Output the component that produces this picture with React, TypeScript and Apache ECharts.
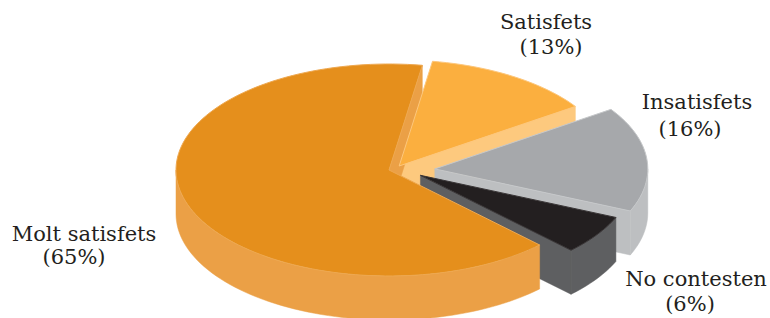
import React, { useEffect, useRef } from "react";
import * as echarts from "echarts";

const categories = ["Molt satisfets", "Satisfets", "Insatisfets", "No contesten"];
const values = [65, 13, 16, 6];

const topColors = ["#E58F1C", "#FBAF3F", "#A6A8AB", "#231F20"];
const sideColors = ["#EBA046", "#FDC97E", "#BDBFC1", "#5E5F61"];
const rimColors = ["#EEA850", "#FDC77C", "#C6C8CA", "#3A3637"];
const explode = [0, 19, 46, 38];

// label anchors (x center, top of first line, x center of second line, top of second line)
const labelPos = [
  [84, 223, 74, 246],
  [546, 11, 551, 36],
  [697, 91, 690, 118],
  [696, 268, 690, 293],
];

const W = 770;
const H = 318;
const CX = 389;
const CY = 170;
const RX = 213;
const RY = 106;
const DEPTH = 44;
const START = 45;
const EXPLODE_Y = 0.25;
const FONT = "DejaVu Serif";
const FONT_SIZE = 21;

const rad = (d: number) => (d * Math.PI) / 180;

function sliceGeom(i: number) {
  const total = values.reduce((s, v) => s + v, 0);
  let cum = 0;
  for (let k = 0; k < i; k++) cum += values[k];
  const a0 = START + (cum / total) * 360;
  const a1 = a0 + (values[i] / total) * 360;
  const mid = (a0 + a1) / 2;
  const cx = CX + explode[i] * Math.cos(rad(mid));
  const cy = CY + explode[i] * Math.sin(rad(mid)) * EXPLODE_Y;
  return { a0, a1, cx, cy };
}

function renderItem(params: any) {
  const i = params.dataIndex;
  const { a0, a1, cx, cy } = sliceGeom(i);
  const pt = (t: number, down: number) => [cx + RX * Math.cos(rad(t)), cy + RY * Math.sin(rad(t)) + down];
  const arc = (s: number, e: number, down: number) => {
    const n = Math.max(2, Math.ceil(Math.abs(e - s) / 2));
    const out: number[][] = [];
    for (let k = 0; k <= n; k++) out.push(pt(s + ((e - s) * k) / n, down));
    return out;
  };
  const topPts = [[cx, cy], ...arc(a0, a1, 0)];
  let maxY = 0;
  const sides: number[][][] = [];
  for (let k = -1; k <= 1; k++) {
    const ws = k * 360;
    const we = k * 360 + 180;
    const s = Math.max(a0, ws);
    const e = Math.min(a1, we);
    if (e > s) {
      const top = arc(s, e, 0);
      const bot = arc(s, e, DEPTH).reverse();
      sides.push([...top, ...bot]);
    }
  }
  const radial: number[][][] = [];
  if (Math.cos(rad(a0)) < 0) {
    const p = pt(a0, 0);
    radial.push([[cx, cy], p, [p[0], p[1] + DEPTH], [cx, cy + DEPTH]]);
  }
  if (Math.cos(rad(a1)) > 0) {
    const p = pt(a1, 0);
    radial.push([[cx, cy], p, [p[0], p[1] + DEPTH], [cx, cy + DEPTH]]);
  }
  const allPts = [...topPts];
  sides.forEach((s) => allPts.push(...s));
  radial.forEach((s) => allPts.push(...s));
  allPts.forEach((p) => (maxY = Math.max(maxY, p[1])));
  const sideZ = Math.round(maxY);
  const children: any[] = [];
  radial.forEach((poly) =>
    children.push({
      type: "polygon",
      z2: sideZ,
      shape: { points: poly },
      style: { fill: sideColors[i], stroke: sideColors[i], lineWidth: 0.5 },
    })
  );
  sides.forEach((poly) =>
    children.push({
      type: "polygon",
      z2: sideZ + 1,
      shape: { points: poly },
      style: { fill: sideColors[i], stroke: sideColors[i], lineWidth: 0.5 },
    })
  );
  children.push({
    type: "polygon",
    z2: 1000 + i,
    shape: { points: topPts },
    style: { fill: topColors[i], stroke: rimColors[i], lineWidth: 1 },
  });
  return { type: "group", children };
}

export default function App() {
  const ref = useRef<HTMLDivElement>(null);
  useEffect(() => {
    if (!ref.current) return;
    const chart = echarts.init(ref.current, undefined, { renderer: "svg" });
    const labels: any[] = [];
    const textStyle = (text: string) => ({
      text,
      fill: "#231F20",
      font: `${FONT_SIZE}px "${FONT}"`,
      textAlign: "center",
      textVerticalAlign: "top",
    });
    categories.forEach((c, i) => {
      const [x1, y1, x2, y2] = labelPos[i];
      labels.push({ type: "text", x: x1, y: y1, style: textStyle(c) });
      labels.push({ type: "text", x: x2, y: y2, style: textStyle(`(${values[i]}%)`) });
    });
    chart.setOption({
      animation: false,
      backgroundColor: "#ffffff",
      series: [
        {
          type: "custom",
          coordinateSystem: "none",
          renderItem,
          data: values.map((v, i) => ({ value: v, name: categories[i] })),
        },
      ],
      graphic: labels,
    });
    return () => chart.dispose();
  }, []);
  return <div ref={ref} style={{ position: "fixed", left: 0, top: 0, width: W, height: H }} />;
}
